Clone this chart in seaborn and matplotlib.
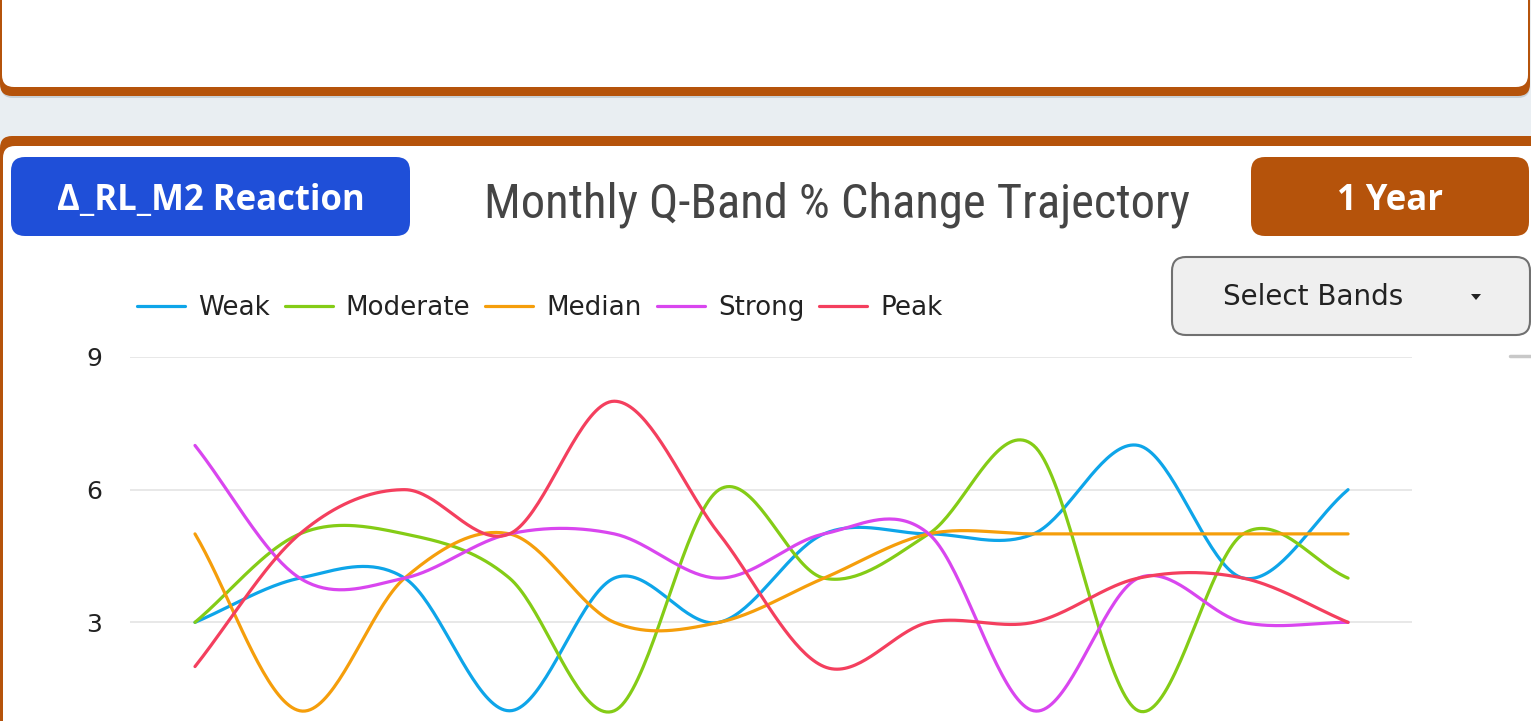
import numpy as np
import pandas as pd
import matplotlib
matplotlib.use("Agg")
import matplotlib.pyplot as plt
import seaborn as sns
from matplotlib import font_manager as fm
from matplotlib.patches import FancyBboxPatch, Polygon
from matplotlib.lines import Line2D

# ---------------- data ----------------
months = ["Jan", "Feb", "Mar", "Apr", "May", "Jun", "Jul", "Aug", "Sep", "Oct", "Nov", "Dec"]
bands = ["Weak", "Moderate", "Median", "Strong", "Peak"]
weak = [3, 4, 4, 1, 4, 3, 5, 5, 5, 7, 4, 6]
moderate = [3, 5, 5, 4, 1, 6, 4, 5, 7, 1, 5, 4]
median = [5, 1, 4, 5, 3, 3, 4, 5, 5, 5, 5, 5]
strong = [7, 4, 4, 5, 5, 4, 5, 5, 1, 4, 3, 3]
peak = [2, 5, 6, 5, 8, 5, 2, 3, 3, 4, 4, 3]
y_ticks = [3, 6, 9]

colors = {"Weak": "#0ea5e9", "Moderate": "#84cc16", "Median": "#f59e0b",
          "Strong": "#d946ef", "Peak": "#f43f5e"}

series = {"Weak": weak, "Moderate": moderate, "Median": median,
          "Strong": strong, "Peak": peak}


def catmull(vals, n=40):
    p = np.asarray(vals, float)
    k = len(p)
    m = np.zeros(k)
    m[1:-1] = (p[2:] - p[:-2]) / 2.0
    m[0] = p[1] - p[0]
    m[-1] = p[-1] - p[-2]
    xs, ys = [], []
    for i in range(k - 1):
        t = np.linspace(0, 1, n, endpoint=(i == k - 2))
        h00 = 2 * t**3 - 3 * t**2 + 1
        h10 = t**3 - 2 * t**2 + t
        h01 = -2 * t**3 + 3 * t**2
        h11 = t**3 - t**2
        ys.append(h00 * p[i] + h10 * m[i] + h01 * p[i + 1] + h11 * m[i + 1])
        xs.append(i + t)
    return np.concatenate(xs), np.concatenate(ys)


rows = []
for b in bands:
    xs, ys = catmull(series[b])
    for j, (xx, yy) in enumerate(zip(xs, ys)):
        rows.append({"band": b, "x": xx, "y": yy, "order": j})
df = pd.DataFrame(rows)

# ---------------- fonts ----------------
names = {f.name for f in fm.fontManager.ttflist}
title_font = "Roboto"
for cand in ["Roboto Condensed", "Liberation Sans Narrow", "Open Sans Condensed"]:
    if cand in names:
        title_font = cand
        break
btn_font = "Open Sans" if "Open Sans" in names else "DejaVu Sans"
body_font = "DejaVu Sans"

sns.set_theme(style="white")
plt.rcParams["font.family"] = [body_font]

W, H = 1531, 721
fig = plt.figure(figsize=(W / 100, H / 100), dpi=100)
fig.patch.set_facecolor("#e9eef2")

# background / decoration layer in pixel coordinates
bg = fig.add_axes([0, 0, 1, 1], zorder=0)
bg.set_xlim(0, W)
bg.set_ylim(H, 0)
bg.axis("off")


def rbox(x0, y0, x1, y1, fc, r=12, ec="none", lw=0, z=1):
    p = FancyBboxPatch((x0, y0), x1 - x0, y1 - y0,
                       boxstyle=f"round,pad=0,rounding_size={r}",
                       fc=fc, ec=ec, lw=lw, zorder=z)
    bg.add_patch(p)
    return p


ORANGE = "#b5530b"
# top card
rbox(1, -40, 1530, 98, "#c9d0d6", r=12, z=0.5)
rbox(0, -40, 1530, 96, ORANGE, r=12, z=1)
rbox(2, -40, 1528, 87, "white", r=12, z=2)
# chart card
rbox(0, 136, 1560, 900, ORANGE, r=12, z=1)
rbox(3, 146, 1560, 900, "white", r=12, z=2)

# buttons
rbox(11, 157, 410, 236, "#1f4fd8", r=14, z=3)
bg.text(210.5, 210.5, "Δ_RL_M2 Reaction", ha="center", va="baseline", color="white",
        fontsize=25, fontweight="bold", family=[btn_font, "DejaVu Sans"], zorder=4)
rbox(1251, 157, 1529, 236, ORANGE, r=14, z=3)
bg.text(1390, 210.5, "1 Year", ha="center", va="baseline", color="white",
        fontsize=25, fontweight="bold", family=[btn_font, "DejaVu Sans"], zorder=4)
bg.text(837, 218, "Monthly Q-Band % Change Trajectory", ha="center", va="baseline",
        color="#454545", fontsize=35, family=[title_font, "DejaVu Sans"], zorder=4)

# dropdown
rbox(1172, 257, 1530, 335, "#efefef", r=14, ec="#707070", lw=1.5, z=3)
bg.text(1313.5, 297, "Select Bands", ha="center", va="center", color="#222222",
        fontsize=20, family=[body_font], zorder=4)
bg.add_patch(Polygon([[1471, 294], [1481, 294], [1476, 300]], closed=True,
                     fc="#222222", ec="none", zorder=4))
bg.plot([1510, 1531], [356, 356], color="#c8c8c8", lw=2.5, zorder=3)

# ---------------- chart ----------------
ax = fig.add_axes([130 / W, 1 - 755 / H, 1282 / W, 398 / H], zorder=2)
ax.set_facecolor("none")
sns.lineplot(data=df, x="x", y="y", hue="band", hue_order=bands, palette=colors,
             units="band", estimator=None, sort=False, lw=2.3, ax=ax, legend=False)
ax.set_xlim(-0.62, 11.61)
ax.set_ylim(0, 9)
ax.set_yticks(y_ticks)
ax.set_yticklabels([str(v) for v in y_ticks])
ax.set_xticks(range(len(months)))
ax.tick_params(axis="x", length=0, labelbottom=False)
ax.tick_params(axis="y", length=0, pad=20, labelsize=18, labelcolor="#222222")
ax.grid(axis="y", color="#e6e6e6", lw=1.3)
ax.grid(axis="x", visible=False)
for s in ax.spines.values():
    s.set_visible(False)
ax.set_xlabel("")
ax.set_ylabel("")

handles = [Line2D([0], [0], color=colors[b], lw=2.3) for b in bands]
ax.legend(handles, bands, loc="center left", bbox_to_anchor=(137 / W, 1 - 308 / H),
          bbox_transform=fig.transFigure, ncol=5, frameon=False, fontsize=18.8,
          handlelength=1.84, handletextpad=0.5, columnspacing=0.57, borderpad=0,
          borderaxespad=0, labelcolor="#222222")

fig.savefig("out.png", dpi=100, facecolor=fig.get_facecolor())
